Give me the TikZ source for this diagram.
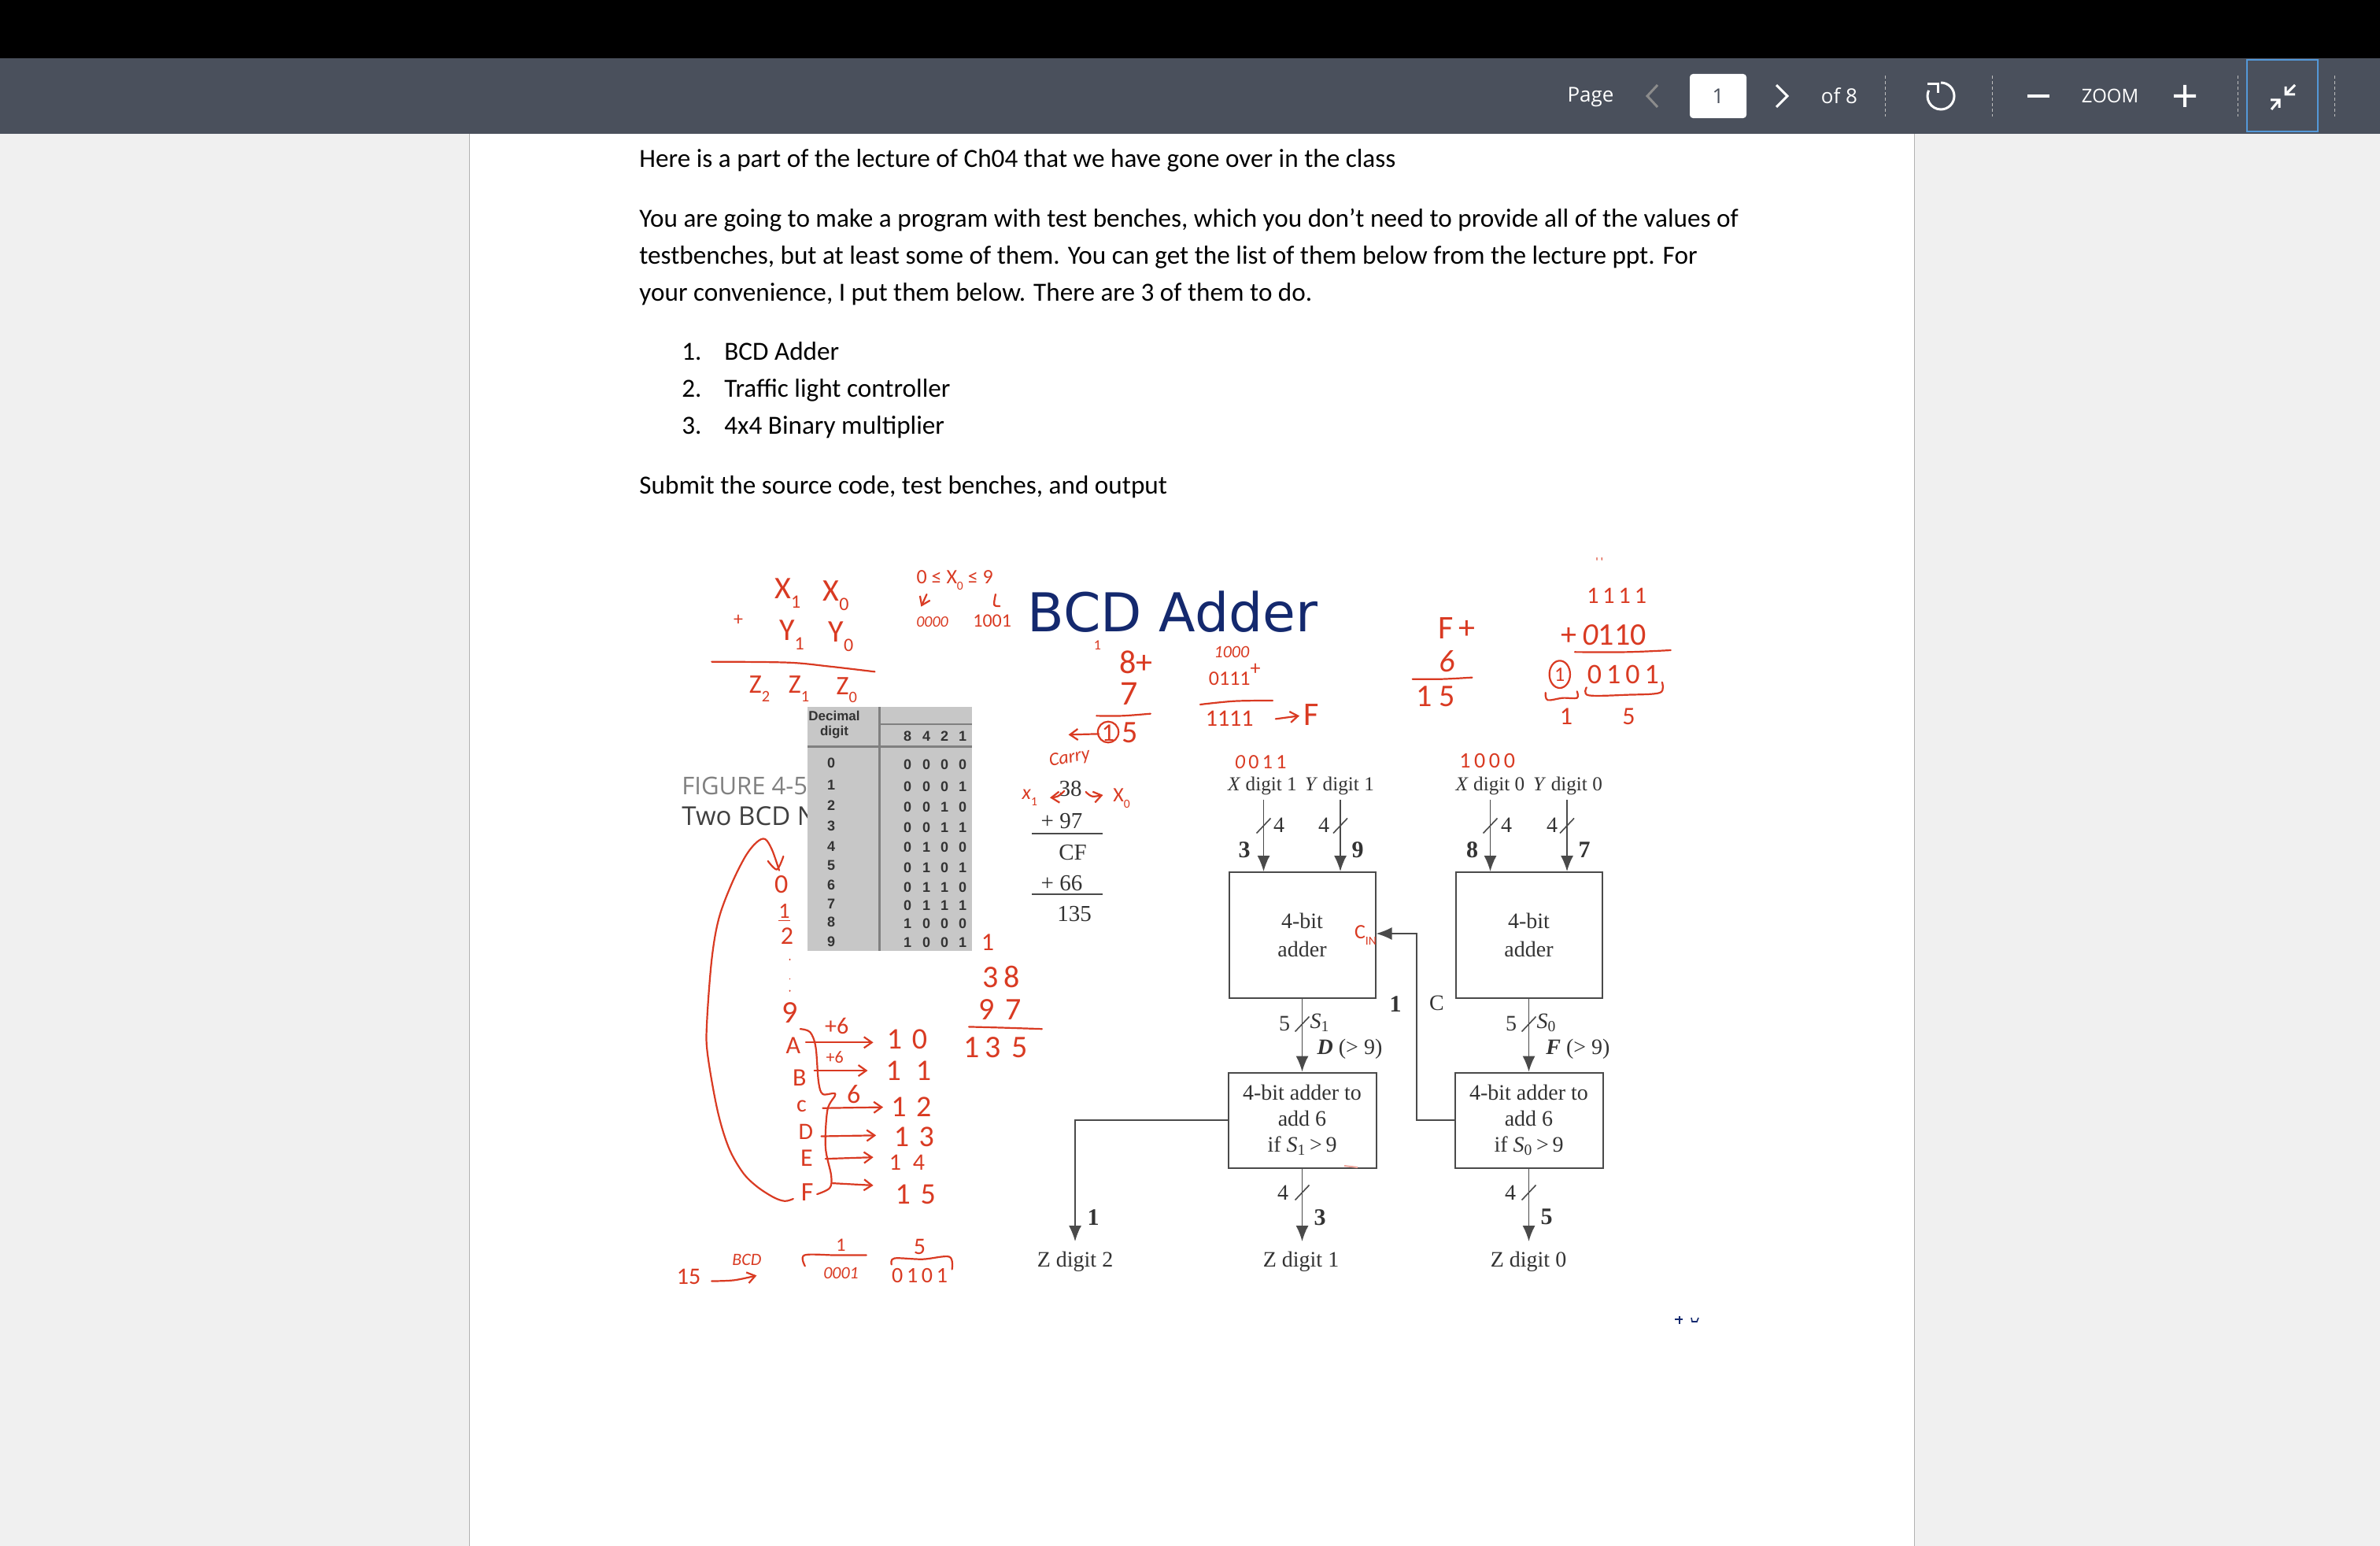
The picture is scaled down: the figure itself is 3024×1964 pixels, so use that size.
\documentclass[tikz,border=0pt]{standalone}
\usepackage{fontspec}
\usetikzlibrary{arrows.meta,calc}
\setmainfont{Carlito}
\newfontfamily\tms{Liberation Serif}
\newfontfamily\ars{Liberation Sans}
\newfontfamily\ops{Open Sans}
\newfontfamily\djv{DejaVu Sans}
\newfontfamily\hwf{Carlito}
\definecolor{hwred}{HTML}{D93A22}
\definecolor{barcol}{HTML}{4A505C}
\definecolor{pagebg}{HTML}{F0F0F0}
\definecolor{navy}{HTML}{14296E}
\definecolor{wirecol}{HTML}{4A4A4A}
\definecolor{tabtext}{HTML}{333333}
\newcommand\fs[1]{\fontsize{#1}{#1}\selectfont}
\newcommand\sbs[1]{\raisebox{-.3em}{\scalebox{.6}{#1}}}
\newcommand\hwn[4]{\node[hwtext] (#1) at (#2) {\fs{#3}#4};}
\newcommand\hs[1]{\draw[hwstroke] plot[smooth,tension=.55] coordinates {#1};}
\newcommand\hsa[1]{\draw[hwstroke,-{Straight Barb[length=5pt,width=7pt]}] plot[smooth,tension=.55] coordinates {#1};}
\newcommand\tlab[3]{\node[dtext] (#1) at (#2) {\fs{14}#3};}
\newcommand\blab[3]{\node[dtext] (#1) at (#2) {\fs{15}\bfseries #3};}
\newcommand\slashmark[2]{\draw[wire] ([shift={(-9,9.5)}]#1,#2) -- ([shift={(9,-9.5)}]#1,#2);}
\tikzset{
 x=.5pt,y=-.5pt,
 z1/.style={shift={(840,700)},xscale=1/2.8,yscale=1/3},
 z2/.style={shift={(840,1060)},xscale=1/2.8,yscale=1/2.516},
 z3/.style={shift={(1300,700)},xscale=1/1.823,yscale=1/3},
 hwtext/.style={text=hwred,font=\hwf,inner sep=0pt},
 hwstroke/.style={draw=hwred,line width=1.1pt,line cap=round,line join=round},
 dtext/.style={text=black!80,font=\tms,inner sep=0pt},
 wire/.style={draw=wirecol,line width=.8pt},
 wirearrow/.style={wire,-{Latex[length=10pt,width=8pt]}},
 blockbox/.style={draw=wirecol,line width=1pt,fill=white,inner sep=0pt,align=center,font=\tms\fontsize{14}{18}\selectfont,text=black!80},
 bodytext/.style={anchor=base west,inner sep=0pt,font=\fontsize{16.6}{20}\selectfont,text=black},
 bartext/.style={text=white,font=\ops,inner sep=0pt},
 tabcell/.style={text=tabtext,font=\ars\bfseries\fontsize{9}{10}\selectfont,inner sep=0pt},
 icon/.style={draw=white,line width=1.5pt},
 sep/.style={draw=white!75!black,line width=.5pt,dashed,dash pattern=on 2pt off 1.5pt},
}
\begin{document}
\begin{tikzpicture}
\useasboundingbox (0,0) rectangle (3024,1964);
% screen
\fill[pagebg] (0,0) rectangle (3024,1964);
\fill[white] (596,170) rectangle (2432,1964);
\draw[gray!60,line width=.5pt] (596,170) -- (596,1964) (2432,170) -- (2432,1964);
\fill[black] (0,0) rectangle (3024,74);
\fill[barcol] (0,74) rectangle (3024,170);
% toolbar
\node[bartext] (tpage) at (2021,123) {\fs{13}Page};
\draw[draw=white!55!black,line width=1.5pt] (2106,108) -- (2093,122) -- (2106,136);
\node[fill=white,rounded corners=2pt,minimum width=36pt,minimum height=28pt,inner sep=0pt,text=barcol,font=\ops] (tnum) at (2183,122) {\fs{13}1};
\draw[icon] (2257,108) -- (2271,122) -- (2257,136);
\node[bartext] (tof) at (2337,122) {\fs{13}of 8};
\draw[sep] (2395,96) -- (2395,148);
\draw[icon] (2466,105) arc[start angle=-90,end angle=205,x radius=17,y radius=17];
\draw[icon] (2449,107) -- (2462,107) -- (2462,118);
\draw[sep] (2531,96) -- (2531,148);
\fill[white] (2576,120) rectangle (2604,124);
\node[bartext] (tzoom) at (2681,122) {\fs{12}ZOOM};
\fill[white] (2762,120) rectangle (2790,124) (2774,108) rectangle (2778,136);
\draw[sep] (2843,96) -- (2843,148);
\draw[draw=cyan!60!blue!70,line width=1pt] (2855,76) rectangle (2945,167);
\draw[icon] (2916,108) -- (2905,119) (2904,110) -- (2904,120) -- (2916,120);
\draw[icon] (2886,139) -- (2896,127) (2885,127) -- (2896,127) -- (2896,137);
\draw[sep] (2966,96) -- (2966,148);
% body text
\node[bodytext] (l1) at (812,212) {Here is a part of the lecture of Ch04 that we have gone over in the class};
\node[bodytext] (l2) at (812,288) {You are going to make a program with test benches, which you don’t need to provide all of the values of};
\node[bodytext] (l3) at (812,335) {testbenches, but at least some of them.  You can get the list of them below from the lecture ppt.  For};
\node[bodytext] (l4) at (812,382) {your convenience, I put them below.  There are 3 of them to do.};
\node[bodytext] (n1) at (866,457) {1.};
\node[bodytext] (t1) at (920,457) {BCD Adder};
\node[bodytext] (n2) at (866,504) {2.};
\node[bodytext] (t2) at (920,504) {Traffic light controller};
\node[bodytext] (n3) at (866,551) {3.};
\node[bodytext] (t3) at (920,551) {4x4 Binary multiplier};
\node[bodytext] (l5) at (812,627) {Submit the source code, test benches, and output};
% slide title
\node[text=navy,font=\djv,inner sep=0pt] (title) at (1490,777) {\fs{34}BCD Adder};
\node[anchor=west,inner sep=0pt,text=gray,font=\ops] (fig) at (866,998) {\fs{15.5}FIGURE 4-5};
\node[anchor=west,inner sep=0pt,text=black!75,font=\ops] (two) at (866,1037) {\fs{16.5}Two BCD N};
% table
\fill[white!78!black] (1026,898) rectangle (1235,1208);
\draw[gray,line width=1.3pt] (1117.5,898) -- (1117.5,1208) (1117.5,920) -- (1235,920);
\draw[gray,line width=1.5pt] (1026,948) -- (1235,948);
\node[tabcell,font=\ars\bfseries\fontsize{8.5}{10}\selectfont] (dec) at (1060,909) {Decimal};
\node[tabcell,font=\ars\bfseries\fontsize{8.5}{10}\selectfont] (dgt) at (1060,930) {digit};
\node[tabcell] (h8) at (1153,935) {8};
\node[tabcell] (h4) at (1177,935) {4};
\node[tabcell] (h2) at (1200,935) {2};
\node[tabcell] (h1) at (1223,935) {1};
\foreach \d/\ya/\yb/\p/\q/\r/\s in {0/969/971/0/0/0/0,1/997/999/0/0/0/1,2/1023/1025/0/0/1/0,3/1049/1051/0/0/1/1,4/1075/1076/0/1/0/0,5/1099/1102/0/1/0/1,6/1124/1127/0/1/1/0,7/1148/1150/0/1/1/1,8/1171/1173/1/0/0/0,9/1196/1197/1/0/0/1}{
 \node[tabcell] (dg\d) at (1056,\ya) {\d};
 \node[tabcell] (ba\d) at (1153,\yb) {\p};
 \node[tabcell] (bb\d) at (1177,\yb) {\q};
 \node[tabcell] (bc\d) at (1200,\yb) {\r};
 \node[tabcell] (bd\d) at (1223,\yb) {\s};
}
% decimal calc
\node[dtext] (c38) at (1360,1002) {\fs{14.5}38};
\node[dtext] (c97) at (1349,1043) {\fs{14.5}+ 97};
\draw[wire] (1311,1059) -- (1401,1059);
\node[dtext] (ccf) at (1363,1083) {\fs{14.5}CF};
\node[dtext] (c66) at (1349,1122) {\fs{14.5}+ 66};
\draw[wire] (1311,1136) -- (1401,1136);
\node[dtext] (c135) at (1365,1161) {\fs{14.5}135};
% block diagram
\node[blockbox,minimum width=93pt,minimum height=80pt] (b1) at (1654.5,1188) {4-bit\\adder};
\node[blockbox,minimum width=93pt,minimum height=80pt] (b2) at (1942.5,1188) {4-bit\\adder};
\node[blockbox,font=\tms\fontsize{14}{16.3}\selectfont,minimum width=94pt,minimum height=60.5pt] (b3) at (1654.5,1423) {4-bit adder to\\add 6\\if \textit{S}\textsubscript{1}\,>\,9};
\node[blockbox,font=\tms\fontsize{14}{16.3}\selectfont,minimum width=94pt,minimum height=60.5pt] (b4) at (1942.5,1423) {4-bit adder to\\add 6\\if \textit{S}\textsubscript{0}\,>\,9};
\node[dtext] (xd1) at (1604,998) {\fs{12.6}\textit{X} digit 1};
\node[dtext] (yd1) at (1702,998) {\fs{12.6}\textit{Y} digit 1};
\node[dtext] (xd0) at (1893.5,998) {\fs{12.6}\textit{X} digit 0};
\node[dtext] (yd0) at (1992,998) {\fs{12.6}\textit{Y} digit 0};
\coordinate (xa) at (1605.5,1016);
\coordinate (ya) at (1703,1016);
\coordinate (xb) at (1893.5,1016);
\coordinate (yb) at (1991,1016);
\draw[wirearrow] (xa) -- (xa |- b1.north);
\draw[wirearrow] (ya) -- (ya |- b1.north);
\draw[wirearrow] (xb) -- (xb |- b2.north);
\draw[wirearrow] (yb) -- (yb |- b2.north);
\slashmark{1605.5}{1049}\slashmark{1703}{1049}\slashmark{1893.5}{1049}\slashmark{1991}{1049}
\tlab{w1}{1625,1048}{4}\tlab{w2}{1682,1048}{4}\tlab{w3}{1914,1048}{4}\tlab{w4}{1972,1048}{4}
\blab{v3}{1581,1080}{3}\blab{v9}{1725,1080}{9}\blab{v8}{1870.5,1080}{8}\blab{v7}{2013,1080}{7}
\draw[wirearrow] (b1.south) -- (b3.north);
\draw[wirearrow] (b2.south) -- (b4.north);
\slashmark{1654.5}{1301}\slashmark{1942.5}{1301}
\tlab{f1}{1632,1300}{5}\tlab{f2}{1920,1300}{5}
\tlab{s1}{1677,1299}{\textit{S}\textsubscript{1}}\tlab{s0}{1965,1299}{\textit{S}\textsubscript{0}}
\tlab{dg}{1715,1333}{\textbf{\textit{D}} (> 9)}\tlab{fg}{2005,1333}{\textbf{\textit{F}} (> 9)}
\coordinate (zc2) at (1366,1577);
\coordinate (zc1) at (1654.5,1577);
\coordinate (zc0) at (1942.5,1577);
\coordinate (cb1) at (1800,1186);
\coordinate (cb2) at (1800,1423);
\draw[wirearrow] (b3.west) -- (zc2 |- b3.west) -- (zc2);
\draw[wirearrow] (b3.south) -- (zc1);
\draw[wirearrow] (b4.south) -- (zc0);
\draw[wirearrow] (b4.west) -- (cb2) -- (cb1) -- (cb1 -| b1.east);
\slashmark{1654.5}{1515}\slashmark{1942.5}{1515}
\tlab{g1}{1630,1515}{4}\tlab{g2}{1919,1515}{4}
\blab{u1}{1389,1547}{1}\blab{u3}{1677,1547}{3}\blab{u5}{1965,1546}{5}
\blab{cy1}{1773,1276}{1}
\tlab{cyc}{1825.5,1274}{C}
\tlab{z2}{1366,1603}{Z digit 2}\tlab{z1}{1653,1603}{Z digit 1}\tlab{z0}{1942,1603}{Z digit 0}
\node[hwtext] (cin) at (1735,1188) {\fs{13}C\sbs{IN}};
\draw[hwred!45,line width=1pt] (1708,1481) -- (1725,1483);
% zoom-1 handwriting
\begin{scope}[z1]
\hwn{ax1}{450,160}{20}{X\sbs{1}}
\hwn{ax0}{622,170}{20}{X\sbs{0}}
\hwn{ay1}{465,320}{20}{Y\sbs{1}}
\hwn{ay0}{640,325}{20}{Y\sbs{0}}
\hwn{apl}{275,265}{12}{+}
\hs{(180,422)(450,425)(600,440)(760,460)}
\hwn{az2}{350,525}{17}{Z\sbs{2}}
\hwn{az1}{490,525}{17}{Z\sbs{1}}
\hwn{az0}{660,530}{17}{Z\sbs{0}}
\hwn{rng}{1045,112}{13}{0 ≤ X\sbs{0} ≤ 9}
\hsa{(945,165)(925,212)}
\hs{(1190,165)(1185,205)(1205,210)}
\hwn{r0}{965,270}{10}{\textit{0000}}
\hwn{r9}{1178,265}{12}{1001}
\end{scope}
% zoom-3 handwriting
\begin{scope}[z3]
\hwn{ca}{172,360}{9}{1}
\hwn{e8}{262,425}{21}{8+}
\hwn{e7}{245,545}{22}{7}
\hs{(170,628)(230,628)(295,620)}
\hwn{e1}{197,695}{16}{1}
\hwn{e5}{248,692}{20}{5}
\draw[hwstroke] (197,690) ellipse [x radius=24,y radius=40];
\hsa{(175,697)(105,700)}
\hwn{cry}{108,790}{12}{\rotatebox{10}{\textit{Carry}}}
\hwn{p1}{483,385}{11}{\textit{1000}}
\hwn{p2}{490,470}{13}{0111\raisebox{.5em}{+}}
\hs{(410,585)(490,572)(578,570)}
\hwn{p3}{478,640}{15}{1111}
\hsa{(585,640)(640,628)}
\hwn{p4}{668,625}{21}{F}
\hwn{q1}{1005,295}{21}{F\,+}
\hwn{q2}{982,420}{20}{\textit{6}}
\hs{(902,488)(970,488)(1040,482)}
\hwn{q3}{955,555}{20}{1 5}
\hwn{dt}{1335,42}{8}{'\,'}
\hwn{r1}{1375,170}{15}{1\,1\,1\,1}
\hwn{r2}{1345,320}{20}{+\,\textit{0}110}
\hs{(1278,385)(1400,385)(1500,378)}
\hwn{r3}{1243,472}{13}{1}
\draw[hwstroke] (1243,470) ellipse [x radius=24,y radius=52];
\hwn{r4}{1390,470}{18}{0\,1\,0\,1}
\hs{(1210,540)(1215,568)(1250,560)(1283,560)(1283,535)}
\hs{(1305,520)(1310,550)(1400,548)(1475,540)(1480,500)}
\hwn{r5}{1258,630}{16}{1}
\hwn{r6}{1403,630}{16}{5}
\hwn{u0}{550,805}{13}{\textit{0}\,0\,1\,1}
\hwn{u1a}{1075,800}{14}{1\,0\,0\,0}
\hwn{xl}{15,940}{13}{\textit{x}\sbs{1}}
\hsa{(95,915)(80,935)(62,940)}
\hsa{(145,918)(160,935)(185,930)}
\hwn{xr}{228,942}{13}{X\sbs{0}}
\end{scope}
% zoom-2 handwriting
\begin{scope}[z2]
\hs{(470,1165)(440,1172)(400,1160)(340,1125)(290,1080)(240,1000)(200,880)(165,700)(163,600)(180,400)(205,270)(250,160)(300,70)(340,25)(370,15)(395,50)(420,115)}
\hs{(380,85)(412,112)(435,70)}
\hwn{d0}{428,160}{17}{0}
\hwn{d1}{438,250}{14}{\underline{1}}
\hwn{d2}{448,325}{16}{2}
\fill[hwred] (458,400) circle [radius=3] (458,462) circle [radius=2] (458,500) circle [radius=3];
\hwn{d9}{458,570}{20}{9}
\hwn{la}{470,675}{16}{A}
\hwn{lb}{492,778}{16}{B}
\hwn{lc}{500,868}{15}{c}
\hwn{ld}{515,950}{15}{D}
\hwn{le}{518,1035}{16}{E}
\hwn{lf}{520,1145}{17}{F}
\hs{(495,622)(530,632)(550,680)(560,790)(575,830)(620,830)(592,880)(585,1000)(605,1090)(600,1130)(555,1150)}
\hsa{(515,665)(755,665)}
\hsa{(545,755)(735,755)}
\hsa{(575,875)(790,872)}
\hsa{(570,965)(765,962)}
\hsa{(585,1037)(755,1032)}
\hsa{(610,1115)(755,1122)}
\hwn{pa}{625,612}{15}{+6}
\hwn{pb}{618,712}{11}{+6}
\hwn{pc}{685,830}{17}{6}
\hwn{va}{875,655}{19}{1\,\,0}
\hwn{vb}{880,755}{19}{1\,\,\,1}
\hwn{vc}{890,870}{19}{1\,\,2}
\hwn{vd}{900,968}{19}{1\,\,3}
\hwn{ve}{875,1050}{15}{1\,\,\,4}
\hwn{vf}{905,1150}{19}{1\,\,5}
\hwn{k1}{1162,345}{16}{1}
\hwn{k2}{1210,455}{20}{3\,8}
\hwn{k3}{1205,560}{20}{9\,\,7}
\hs{(1095,615)(1220,618)(1355,622)}
\hwn{k4}{1190,680}{20}{1\,3\,\,5}
\hwn{b15}{98,1415}{15}{15}
\hwn{bbc}{305,1360}{11}{\textit{BCD}}
\hsa{(180,1428)(260,1425)(340,1410)}
\hwn{b1t}{640,1312}{12}{1}
\hs{(512,1380)(510,1345)(620,1345)(730,1345)}
\hwn{b1b}{640,1402}{11}{\textit{0001}}
\hwn{b5t}{920,1318}{15}{5}
\hs{(820,1375)(830,1355)(930,1358)(1025,1350)(1035,1390)}
\hwn{b5b}{920,1410}{14}{0\,1\,0\,1}
\end{scope}
% clipped remnant
\draw[navy,line width=.8pt] (2128,1676) -- (2138,1676) (2134,1672) -- (2134,1682);
\draw[navy,line width=.8pt] (2149,1674) -- (2150,1679) -- (2156,1679) -- (2158,1674);
\end{tikzpicture}
\end{document}
